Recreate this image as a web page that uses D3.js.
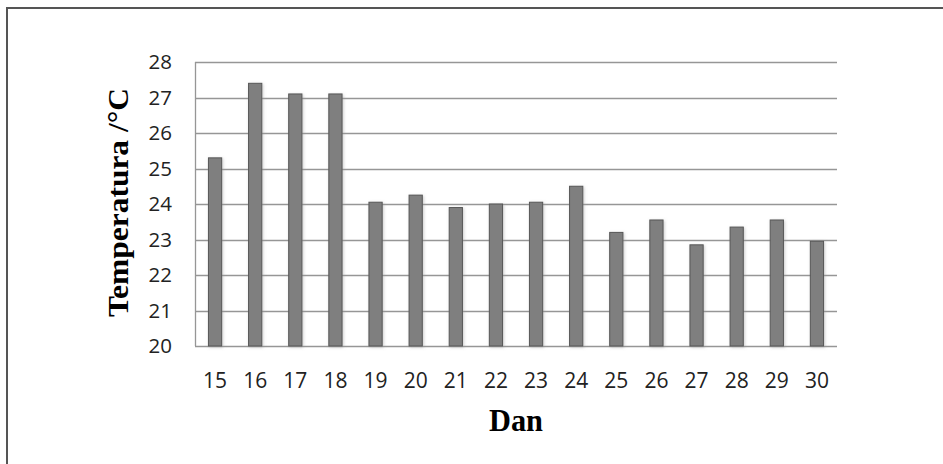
<!DOCTYPE html>
<html>
<head>
<meta charset="utf-8">
<script src="https://cdn.jsdelivr.net/npm/d3@7"></script>
<style>
  html, body { margin: 0; padding: 0; background: #fff; }
  svg { display: block; }
</style>
</head>
<body>
<svg id="chart" width="943" height="464"></svg>
<script>
const days = ["15","16","17","18","19","20","21","22","23","24","25","26","27","28","29","30"];
const temperatures = [25.3, 27.4, 27.1, 27.1, 24.05, 24.25, 23.9, 24.0, 24.05, 24.5, 23.2, 23.55, 22.85, 23.35, 23.55, 22.95];
const yTicks = [20, 21, 22, 23, 24, 25, 26, 27, 28];
const xTitle = "Dan";
const yTitle = "Temperatura /°C";

const svg = d3.select("#chart");
const plot = { left: 195, right: 837, top: 62, bottom: 346 };

// outer frame (open to the right / bottom, as in the reference)
svg.append("rect")
  .attr("x", 7).attr("y", 8).attr("width", 1200).attr("height", 1200)
  .attr("fill", "none").attr("stroke", "#555").attr("stroke-width", 2);

const defs = svg.append("defs");
const f = defs.append("filter").attr("id", "glow")
  .attr("x", "-60%").attr("y", "-10%").attr("width", "220%").attr("height", "120%");
f.append("feDropShadow").attr("dx", 1).attr("dy", 1).attr("stdDeviation", 1.8)
  .attr("flood-color", "#999").attr("flood-opacity", 0.5);

const x = d3.scaleBand().domain(days).range([plot.left, plot.right]).padding(0);
const y = d3.scaleLinear().domain([20, 28]).range([plot.bottom, plot.top]);

// gridlines
svg.append("g").selectAll("line").data(yTicks).join("line")
  .attr("x1", plot.left).attr("x2", plot.right)
  .attr("y1", d => Math.round(y(d)) + 0.5).attr("y2", d => Math.round(y(d)) + 0.5)
  .attr("stroke", "#969696").attr("stroke-width", 1.3);

// left axis line
svg.append("line")
  .attr("x1", plot.left + 0.5).attr("x2", plot.left + 0.5)
  .attr("y1", plot.top).attr("y2", plot.bottom)
  .attr("stroke", "#969696").attr("stroke-width", 1.3);

// bars
const bw = x.bandwidth() * 0.33;
svg.append("g").selectAll("rect").data(temperatures).join("rect")
  .attr("x", (d, i) => x(days[i]) + (x.bandwidth() - bw) / 2)
  .attr("y", d => y(d))
  .attr("width", bw)
  .attr("height", d => y(20) - y(d))
  .attr("fill", "#7f7f7f")
  .attr("stroke", "#575757").attr("stroke-width", 1)
  .attr("filter", "url(#glow)");

// y tick labels
svg.append("g").selectAll("text").data(yTicks).join("text")
  .attr("x", 172).attr("y", d => y(d))
  .attr("dy", "0.36em")
  .attr("text-anchor", "end")
  .attr("font-family", "'Open Sans', sans-serif").attr("font-size", 20.5)
  .attr("fill", "#222")
  .text(d => d);

// x tick labels
svg.append("g").selectAll("text").data(days).join("text")
  .attr("x", d => x(d) + x.bandwidth() / 2).attr("y", 388)
  .attr("text-anchor", "middle")
  .attr("font-family", "'Open Sans', sans-serif").attr("font-size", 21)
  .attr("fill", "#222")
  .text(d => d);

// axis titles
svg.append("text")
  .attr("x", (plot.left + plot.right) / 2).attr("y", 431)
  .attr("text-anchor", "middle")
  .attr("font-family", "'Liberation Serif', 'Times New Roman', serif")
  .attr("font-weight", "bold").attr("font-size", 31)
  .attr("textLength", 54).attr("lengthAdjust", "spacingAndGlyphs")
  .attr("fill", "#000")
  .text(xTitle);

svg.append("text")
  .attr("transform", "translate(128,202.5) rotate(-90)")
  .attr("text-anchor", "middle")
  .attr("font-family", "'Liberation Serif', 'Times New Roman', serif")
  .attr("font-weight", "bold").attr("font-size", 29)
  .attr("textLength", 229).attr("lengthAdjust", "spacingAndGlyphs")
  .attr("fill", "#000")
  .text(yTitle);
</script>
</body>
</html>
